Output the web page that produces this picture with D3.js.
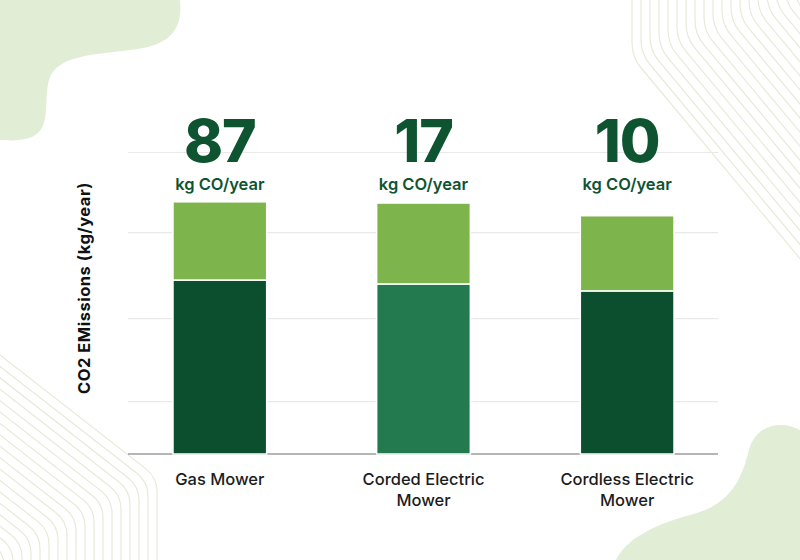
<!DOCTYPE html>
<meta charset="utf-8">
<style>
  body { margin: 0; background: #fff; }
  svg { display: block; font-family: Inter, "Noto Sans", sans-serif; }
  .grid line { stroke: #e9e9e9; stroke-width: 1.2; }
  .grid .domain { display: none; }
  .deco-line { fill: none; stroke: #e7ead8; stroke-width: 1.2; }
</style>
<body>
<svg id="chart" width="800" height="560"></svg>
<script src="https://cdnjs.cloudflare.com/ajax/libs/d3/7.8.5/d3.min.js"></script>
<script>
  const categories = ['Gas Mower', 'Corded Electric Mower', 'Cordless Electric Mower']
  const labelLines = [['Gas Mower'], ['Corded Electric', 'Mower'], ['Cordless Electric', 'Mower']]
  const headline = [87, 17, 10]
  const baseValues = [57.6, 56.3, 54.0]
  const upperValues = [25.9, 26.8, 24.9]
  const gridValues = [17.5, 45, 73.5, 100]

  const baseColors = ['#0c4f2f', '#237a4e', '#0c4f2f']
  const upperColor = '#7db44b'
  const numColor = '#0e5431'

  const svg = d3.select('#chart')

  // background decorations
  const deco = svg.append('g')
  deco.append('path')
      .attr('fill', '#e2edd6')
      .attr('d', 'M0,0 L180,0 C183,30 170,46 130,50 C90,55 56,56 49,80 C43,102 52,128 32,137 C18,142 6,140 0,140 Z')
  deco.append('path')
      .attr('fill', '#e2edd6')
      .attr('d', 'M800,430 C782,420 756,424 749,450 C741,481 730,505 690,515 C650,526 626,540 616,560 L800,560 Z')

  const sp = 9
  // top-right line bundle
  const m1 = 1.2, k1 = Math.sqrt(1 + m1 * m1)
  for (let i = 0; i < 20; i++) {
    const x = 632 + i * sp
    const cy = 57 - (k1 - m1) * i * sp
    const r = 14
    const ex = 820, ey = cy + m1 * (ex - x)
    deco.append('path').attr('class', 'deco-line')
        .attr('d', `M${x},-5 L${x},${cy - r} Q${x},${cy} ${x + r / k1},${cy + m1 * r / k1} L${ex},${ey}`)
  }
  // bottom-left line bundle
  const m2 = 0.78, k2 = Math.sqrt(1 + m2 * m2)
  for (let i = 0; i < 20; i++) {
    const x = 157 - i * sp
    const cy = 477.5 + (k2 - m2) * i * sp
    const r = 14
    const ex = -20, ey = cy - m2 * (x - ex)
    deco.append('path').attr('class', 'deco-line')
        .attr('d', `M${x},565 L${x},${cy + r} Q${x},${cy} ${x - r / k2},${cy - m2 * r / k2} L${ex},${ey}`)
  }

  // scales
  const x = d3.scaleBand()
      .domain(categories)
      .range([118, 729])
      .paddingInner(0.54)
      .paddingOuter(0.27)

  const y = d3.scaleLinear()
      .domain([0, 100])
      .range([454, 152])

  svg.append('g')
      .attr('class', 'grid')
      .attr('transform', 'translate(128,0)')
      .call(d3.axisLeft(y).tickValues(gridValues).tickSize(-590).tickFormat(''))

  svg.append('line')
      .attr('x1', 128).attr('x2', 718)
      .attr('y1', y(0)).attr('y2', y(0))
      .attr('stroke', '#9c9c9c').attr('stroke-width', 1.5)

  // stacked bars
  const rows = categories.map((c, i) => ({ cat: c, base: baseValues[i], upper: upperValues[i] }))
  const series = d3.stack().keys(['base', 'upper'])(rows)

  svg.append('g').selectAll('g')
      .data(series)
    .enter().append('g')
    .selectAll('rect')
      .data(d => d.map((v, i) => ({ v, i, key: d.key })))
    .enter().append('rect')
      .attr('x', d => x(categories[d.i]))
      .attr('width', x.bandwidth())
      .attr('y', d => y(d.v[1]))
      .attr('height', d => y(d.v[0]) - y(d.v[1]))
      .attr('fill', d => d.key === 'base' ? baseColors[d.i] : upperColor)
      .attr('stroke', '#fff')
      .attr('stroke-width', 1.5)

  // headline numbers
  const heads = svg.append('g').selectAll('g')
      .data(categories)
    .enter().append('g')
      .attr('transform', c => `translate(${x(c) + x.bandwidth() / 2},0)`)

  heads.append('text')
      .attr('y', 162)
      .attr('text-anchor', 'middle')
      .attr('fill', numColor)
      .style('font-size', '59px')
      .style('font-weight', 800)
      .style('letter-spacing', '-1px')
      .text((c, i) => headline[i])

  heads.append('text')
      .attr('y', 190)
      .attr('text-anchor', 'middle')
      .attr('fill', numColor)
      .style('font-size', '16.5px')
      .style('font-weight', 600)
      .text('kg CO/year')

  // category labels
  const labels = svg.append('g').selectAll('text')
      .data(categories)
    .enter().append('text')
      .attr('x', c => x(c) + x.bandwidth() / 2)
      .attr('y', 485)
      .attr('text-anchor', 'middle')
      .attr('fill', '#1c1c1c')
      .style('font-size', '16.5px')
      .style('font-weight', 500)

  labels.selectAll('tspan')
      .data((c, i) => labelLines[i])
    .enter().append('tspan')
      .attr('x', function () { return this.parentNode.getAttribute('x') })
      .attr('dy', (d, j) => j === 0 ? 0 : 21)
      .text(d => d)

  // y axis title
  svg.append('text')
      .attr('transform', 'translate(90,288) rotate(-90)')
      .attr('text-anchor', 'middle')
      .attr('fill', '#111')
      .style('font-size', '16.5px')
      .style('font-weight', 700)
      .style('letter-spacing', '0.5px')
      .text('CO2 EMissions (kg/year)')
</script>
</body>
